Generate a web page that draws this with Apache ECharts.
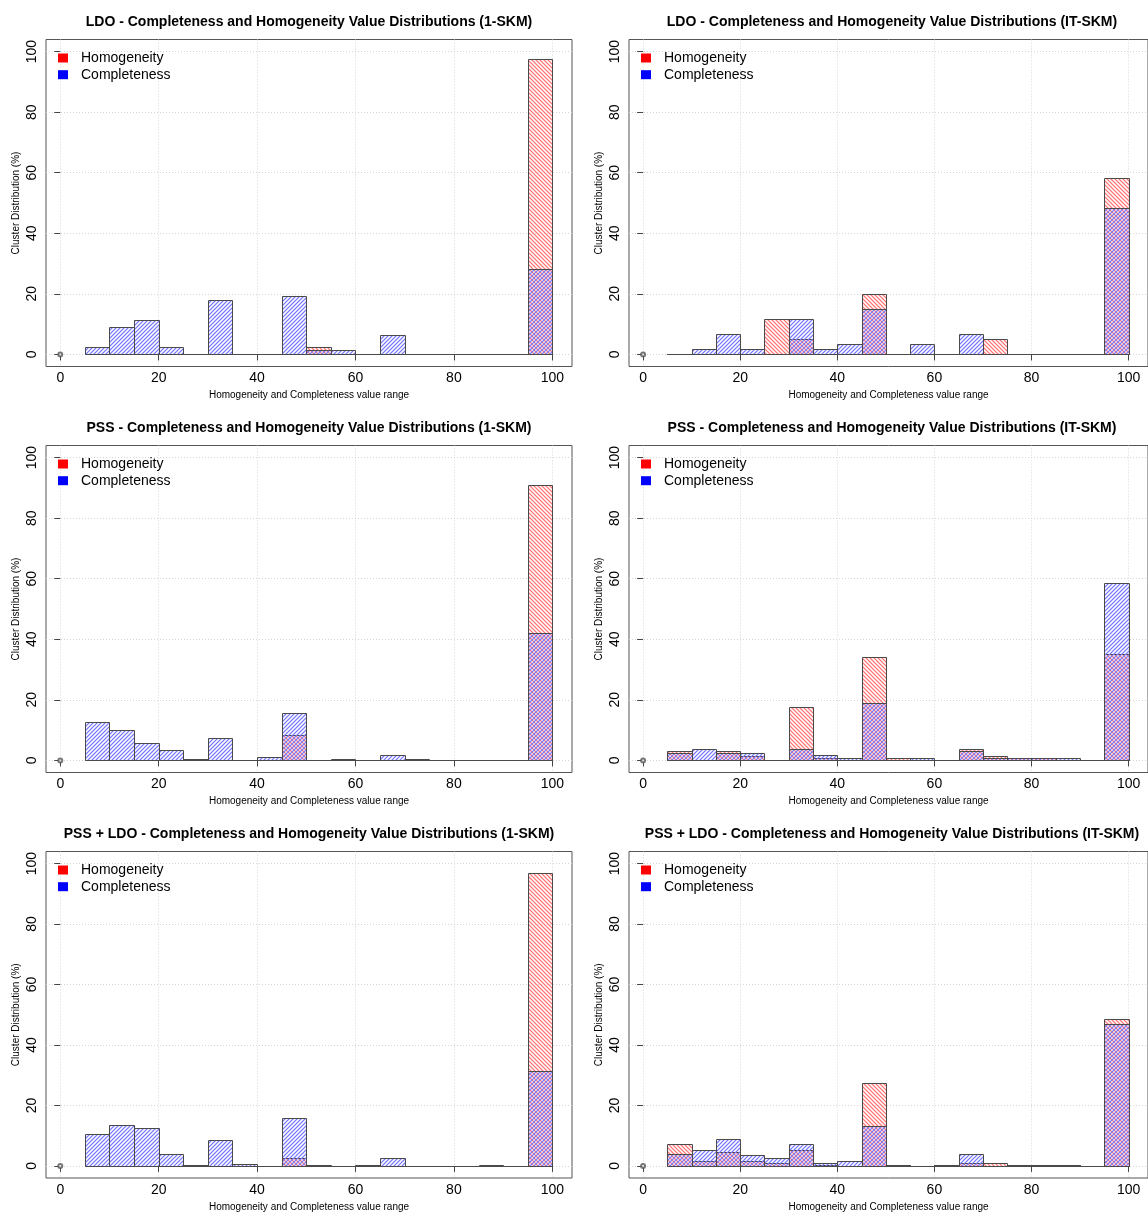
<!DOCTYPE html>
<html><head><meta charset="utf-8">
<script src="https://cdn.jsdelivr.net/npm/echarts@6/dist/echarts.min.js"></script>
<style>html,body{margin:0;padding:0;background:#fff}#c{width:1148px;height:1213px}</style>
</head><body><div id="c"></div>
<script>
// ---- data ----
const binStarts = [5,10,15,20,25,30,35,40,45,50,55,60,65,70,75,80,85,90,95];
const binWidth = 5;
const xTicks = [0,20,40,60,80,100];
const yTicks = [0,20,40,60,80,100];
const originPoint = [[0,0]];
const seriesNames = ['Homogeneity','Completeness'];

const titles = [
  'LDO - Completeness and Homogeneity Value Distributions (1-SKM)',
  'LDO - Completeness and Homogeneity Value Distributions (IT-SKM)',
  'PSS - Completeness and Homogeneity Value Distributions (1-SKM)',
  'PSS - Completeness and Homogeneity Value Distributions (IT-SKM)',
  'PSS + LDO - Completeness and Homogeneity Value Distributions (1-SKM)',
  'PSS + LDO - Completeness and Homogeneity Value Distributions (IT-SKM)'
];

const ldo1H   = [0,0,0,0,0,0,0,0,0,2.6,0,0,0,0,0,0,0,0,97.4];
const ldo1C   = [2.6,9.0,11.5,2.6,0,17.9,0,0,19.2,1.3,1.3,0,6.4,0,0,0,0,0,28.2];
const ldoItH  = [0,0,0,0,11.7,5.0,0,0,20.0,0,0,0,0,5.0,0,0,0,0,58.3];
const ldoItC  = [0,1.7,6.7,1.7,0,11.7,1.7,3.3,15.0,0,3.3,0,6.7,0,0,0,0,0,48.3];
const pss1H   = [0,0,0,0,0.3,0,0,0,8.3,0,0,0,0,0.3,0,0,0,0,91.0];
const pss1C   = [12.8,9.9,5.9,3.3,0,7.3,0,1.0,15.5,0,0.3,0,1.7,0,0,0,0,0,42.1];
const pssItH  = [3.0,0,3.0,1.3,0,17.7,0.7,0,34.1,0.7,0,0,3.6,1.3,0.7,0.7,0,0,35.3];
const pssItC  = [2.3,3.7,2.3,2.3,0,3.7,1.7,0.7,18.9,0,0.7,0,3.0,0.7,0.7,0.7,0.7,0,58.7];
const both1H  = [0,0,0,0,0.3,0,0,0,2.6,0,0,0,0,0,0,0,0.3,0,97.0];
const both1C  = [10.7,13.5,12.5,4.0,0,8.6,0.7,0,15.8,0.3,0,0.3,2.5,0,0,0,0,0,31.4];
const bothItH = [7.4,1.5,4.5,1.5,0.8,5.2,0.4,0,27.4,0.3,0,0.3,1.1,0.8,0.3,0.3,0.3,0,48.5];
const bothItC = [3.9,5.2,8.8,3.5,2.5,7.4,1.1,1.5,13.3,0.3,0,0.3,3.9,0,0.3,0.3,0.3,0,47.1];

const homogeneity = [ldo1H, ldoItH, pss1H, pssItH, both1H, bothItH];
const completeness = [ldo1C, ldoItC, pss1C, pssItC, both1C, bothItC];

// ---- layout / style ----
const FONT = '"Liberation Sans", Arial, Helvetica, sans-serif';
const colLeft = [46, 629];
const rowTop = [39.5, 445.5, 851.5];
const GW = 526, GH = 327;
const HATCH_STEP = 4;
const RED_LINE = '#ff7272';
const BLUE_LINE = '#7878ff';
const HATCH_WIDTH = 1.1;

function makeRender(color, down) {
  return function (params, api) {
    const a = api.coord([api.value(0), api.value(2)]);
    const b = api.coord([api.value(1), 0]);
    const x0 = Math.round(a[0]) + 0.5, x1 = Math.round(b[0]) + 0.5;
    const y0 = Math.round(a[1]) + 0.5, y1 = Math.round(b[1]) + 0.5;
    const s = HATCH_STEP;
    const pts = [];
    if (y1 - y0 > 1.5) {
      if (down) { // "\" lines: x - y = c
        for (let c = Math.ceil((x0 - y1) / s) * s; c <= x1 - y0; c += s) {
          const xa = Math.max(x0, y0 + c), xb = Math.min(x1, y1 + c);
          if (xb > xa + 0.3) pts.push([xa, xa - c, xb, xb - c]);
        }
      } else {   // "/" lines: x + y = c
        for (let c = Math.ceil((x0 + y0) / s) * s; c <= x1 + y1; c += s) {
          const xa = Math.max(x0, c - y1), xb = Math.min(x1, c - y0);
          if (xb > xa + 0.3) pts.push([xa, c - xa, xb, c - xb]);
        }
      }
    }
    const children = pts.map(p => ({
      type: 'line', silent: true,
      shape: {x1: p[0], y1: p[1], x2: p[2], y2: p[3]},
      style: {stroke: color, fill: null, lineWidth: HATCH_WIDTH}
    }));
    children.push({type: 'rect', shape: {x: x0, y: y0, width: x1 - x0, height: y1 - y0},
      style: {fill: null, stroke: '#4a4a4a', lineWidth: 1}});
    return {type: 'group', children: children};
  };
}

const grids = [], xAxes = [], yAxes = [], series = [], titleOpts = [], graphics = [];
for (let i = 0; i < 6; i++) {
  const col = i % 2, row = Math.floor(i / 2);
  const L = colLeft[col], T = rowTop[row];
  grids.push({left: L, top: T, width: GW, height: GH, show: true, borderColor: '#555', borderWidth: 1, backgroundColor: 'transparent', containLabel: false});
  xAxes.push({
    type: 'value', gridIndex: i, min: -2.9, max: 104,
    name: 'Homogeneity and Completeness value range', nameLocation: 'middle', nameGap: 24,
    nameTextStyle: {fontSize: 10, color: '#000', fontFamily: FONT},
    axisLine: {show: false},
    axisTick: {show: true, inside: false, length: 6, customValues: xTicks, lineStyle: {color: '#444'}},
    axisLabel: {customValues: xTicks, fontSize: 14, color: '#000', margin: 5, fontFamily: FONT},
    splitLine: {show: true, lineStyle: {color: '#d6d6d6', type: [1, 2], width: 1}}
  });
  yAxes.push({
    type: 'value', gridIndex: i, min: -4, max: 104,
    name: 'Cluster Distribution (%)', nameLocation: 'middle', nameGap: 25, nameRotate: 90,
    nameTextStyle: {fontSize: 10, color: '#000', fontFamily: FONT},
    axisLine: {show: false},
    axisTick: {show: true, inside: false, length: 6, customValues: yTicks, lineStyle: {color: '#444'}},
    axisLabel: {customValues: yTicks, fontSize: 14, color: '#000', margin: 7, rotate: 90, fontFamily: FONT},
    splitLine: {show: true, lineStyle: {color: '#d6d6d6', type: [1, 2], width: 1}}
  });
  series.push({
    type: 'custom', name: seriesNames[0], xAxisIndex: i, yAxisIndex: i, z: 2,
    itemStyle: {color: RED_LINE},
    renderItem: makeRender(RED_LINE, true),
    encode: {x: [0, 1], y: 2},
    data: binStarts.map((b, k) => [b, b + binWidth, homogeneity[i][k]])
  });
  series.push({
    type: 'custom', name: seriesNames[1], xAxisIndex: i, yAxisIndex: i, z: 3,
    itemStyle: {color: BLUE_LINE},
    renderItem: makeRender(BLUE_LINE, false),
    encode: {x: [0, 1], y: 2},
    data: binStarts.map((b, k) => [b, b + binWidth, completeness[i][k]])
  });
  series.push({
    type: 'scatter', xAxisIndex: i, yAxisIndex: i, silent: true, z: 4,
    symbol: 'emptyCircle', symbolSize: 4,
    itemStyle: {color: '#555', borderWidth: 1},
    data: originPoint
  });
  titleOpts.push({
    text: titles[i], left: L + GW / 2, top: T - 24, textAlign: 'center', padding: 0,
    textStyle: {fontSize: 14, fontWeight: 'bold', color: '#000', fontFamily: FONT}
  });
  graphics.push({
    type: 'group', left: L + 12, top: T + 11.5, silent: true, z: 100,
    children: [
      {type: 'rect', z: 100, shape: {x: 0, y: 0, width: 10, height: 9}, style: {fill: '#ff0000'}},
      {type: 'rect', z: 100, shape: {x: 0, y: 16.7, width: 10, height: 9}, style: {fill: '#0000ff'}},
      {type: 'text', z: 100, x: 23, y: 4.5, style: {text: seriesNames[0], fontSize: 14, fontFamily: FONT, fill: '#000', verticalAlign: 'middle'}},
      {type: 'text', z: 100, x: 23, y: 21.2, style: {text: seriesNames[1], fontSize: 14, fontFamily: FONT, fill: '#000', verticalAlign: 'middle'}}
    ]
  });
}

const chart = echarts.init(document.getElementById('c'), null, {renderer: 'canvas'});
chart.setOption({
  animation: false,
  backgroundColor: '#fff',
  title: titleOpts,
  grid: grids,
  xAxis: xAxes,
  yAxis: yAxes,
  series: series,
  graphic: graphics
});
</script></body></html>
